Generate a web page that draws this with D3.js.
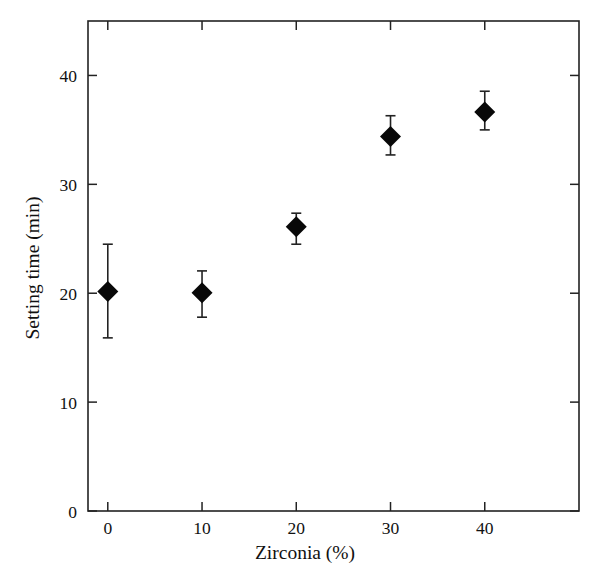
<!DOCTYPE html>
<html><head><meta charset="utf-8">
<script src="https://cdn.jsdelivr.net/npm/d3@7"></script>
<style>body{margin:0;background:#fff}svg{display:block}</style>
</head><body>
<script>
const zirconia = [0, 10, 20, 30, 40];
const settingTime = [20.15, 20.05, 26.1, 34.4, 36.65];
const errLow = [15.9, 17.8, 24.5, 32.7, 35.0];
const errHigh = [24.5, 22.05, 27.35, 36.3, 38.55];
const xTicks = [0, 10, 20, 30, 40];
const yTicks = [0, 10, 20, 30, 40];

const W = 600, H = 586;
const m = {l: 88, r: 21, t: 21, b: 75};
const svg = d3.select("body").append("svg").attr("width", W).attr("height", H);
const x = d3.scaleLinear().domain([-2.1, 50]).range([m.l, W - m.r]);
const y = d3.scaleLinear().domain([0, 45]).range([H - m.b, m.t]);
const font = "'Liberation Serif', 'Times New Roman', serif";
const col = "#222";

// frame
svg.append("rect").attr("x", m.l).attr("y", m.t)
  .attr("width", W - m.l - m.r).attr("height", H - m.t - m.b)
  .attr("fill", "none").attr("stroke", col).attr("stroke-width", 1.6);

const tl = 9;
const g = svg.append("g");
xTicks.forEach(v => {
  g.append("line").attr("x1", x(v)).attr("x2", x(v)).attr("y1", y(0)).attr("y2", y(0) - tl).attr("stroke", col).attr("stroke-width", 1.5);
  g.append("line").attr("x1", x(v)).attr("x2", x(v)).attr("y1", m.t).attr("y2", m.t + tl).attr("stroke", col).attr("stroke-width", 1.5);
  g.append("text").attr("x", x(v)).attr("y", y(0) + 23).attr("text-anchor", "middle")
    .attr("font-family", font).attr("font-size", 17.5).attr("fill", "#111").text(v);
});
yTicks.forEach(v => {
  g.append("line").attr("x1", m.l).attr("x2", m.l + tl).attr("y1", y(v)).attr("y2", y(v)).attr("stroke", col).attr("stroke-width", 1.5);
  g.append("line").attr("x1", W - m.r).attr("x2", W - m.r - tl).attr("y1", y(v)).attr("y2", y(v)).attr("stroke", col).attr("stroke-width", 1.5);
  g.append("text").attr("x", m.l - 11).attr("y", y(v) + 6.5).attr("text-anchor", "end")
    .attr("font-family", font).attr("font-size", 17.5).attr("fill", "#111").text(v);
});

// titles
svg.append("text").attr("x", 305).attr("y", 559).attr("text-anchor", "middle")
  .attr("font-family", font).attr("font-size", 19.5).attr("fill", "#111").text("Zirconia (%)");
svg.append("text").attr("transform", `translate(39,268) rotate(-90)`)
  .attr("text-anchor", "middle").attr("font-family", font).attr("font-size", 19.5).attr("fill", "#111")
  .text("Setting time (min)");

// error bars
const cap = 5;
zirconia.forEach((v, i) => {
  const eg = svg.append("g").attr("stroke", col).attr("stroke-width", 1.6);
  eg.append("line").attr("x1", x(v)).attr("x2", x(v)).attr("y1", y(errLow[i])).attr("y2", y(errHigh[i]));
  eg.append("line").attr("x1", x(v) - cap).attr("x2", x(v) + cap).attr("y1", y(errLow[i])).attr("y2", y(errLow[i]));
  eg.append("line").attr("x1", x(v) - cap).attr("x2", x(v) + cap).attr("y1", y(errHigh[i])).attr("y2", y(errHigh[i]));
});

// diamonds
const s = 10.5;
svg.selectAll("path.pt").data(zirconia).join("path").attr("class", "pt")
  .attr("d", (v, i) => {
    const cx = x(v), cy = y(settingTime[i]);
    return `M${cx},${cy - s}L${cx + s},${cy}L${cx},${cy + s}L${cx - s},${cy}Z`;
  })
  .attr("fill", "#080808");
</script>
</body></html>
